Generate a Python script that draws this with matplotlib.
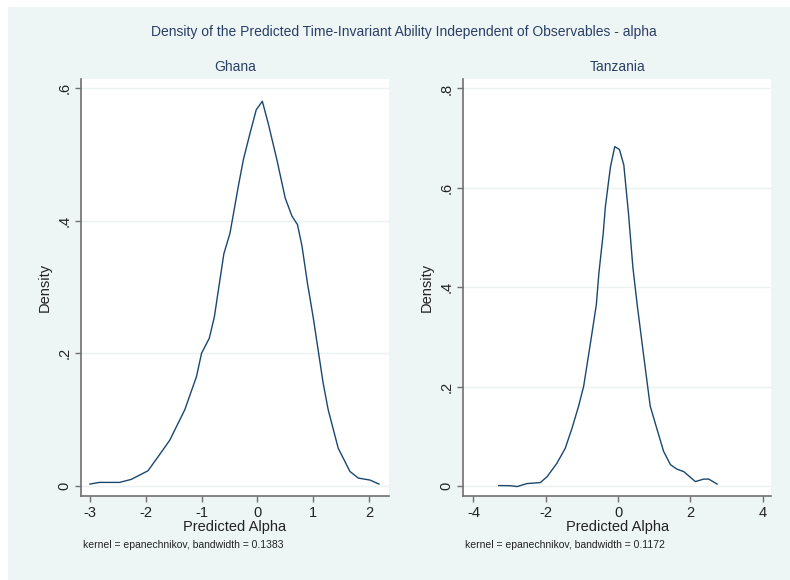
import numpy as np
import matplotlib
matplotlib.use('Agg')
import matplotlib.pyplot as plt

plt.rcParams['font.family'] = ['Liberation Sans', 'DejaVu Sans']

# Ghana density curve
ghana_x = [-3.00, -2.83, -2.47, -2.26, -1.96, -1.78, -1.57, -1.30, -1.09, -1.00,
           -0.86, -0.77, -0.60, -0.49, -0.34, -0.25, -0.13, -0.02, 0.09, 0.20,
           0.35, 0.50, 0.62, 0.72, 0.80, 0.90, 1.00, 1.09, 1.18, 1.27,
           1.45, 1.66, 1.81, 2.02, 2.18]
ghana_y = [0.003, 0.0055, 0.0055, 0.010, 0.023, 0.044, 0.069, 0.115, 0.165, 0.200,
           0.223, 0.255, 0.350, 0.381, 0.452, 0.492, 0.532, 0.567, 0.580, 0.545,
           0.492, 0.434, 0.407, 0.394, 0.362, 0.305, 0.255, 0.205, 0.155, 0.115,
           0.057, 0.022, 0.012, 0.009, 0.003]

# Tanzania density curve
tanz_x = [-3.30, -2.98, -2.79, -2.52, -2.15, -1.96, -1.69, -1.46, -1.27, -1.09,
          -0.95, -0.76, -0.60, -0.53, -0.41, -0.35, -0.21, -0.09, 0.04, 0.16,
          0.29, 0.41, 0.53, 0.71, 0.89, 1.08, 1.26, 1.45, 1.63, 1.82,
          2.14, 2.37, 2.51, 2.74]
tanz_y = [0.001, 0.0007, -0.001, 0.005, 0.007, 0.019, 0.046, 0.076, 0.117, 0.161,
          0.201, 0.289, 0.365, 0.428, 0.508, 0.562, 0.642, 0.683, 0.677, 0.646,
          0.548, 0.441, 0.365, 0.262, 0.161, 0.114, 0.070, 0.043, 0.034, 0.029,
          0.009, 0.014, 0.014, 0.004]

ghana_xticks = [-3, -2, -1, 0, 1, 2]
ghana_yticks = [0, 0.2, 0.4, 0.6]
tanz_xticks = [-4, -2, 0, 2, 4]
tanz_yticks = [0, 0.2, 0.4, 0.6, 0.8]
ylabels_g = ['0', '.2', '.4', '.6']
ylabels_t = ['0', '.2', '.4', '.6', '.8']

title = 'Density of the Predicted Time-Invariant Ability Independent of Observables - alpha'
notes = ['kernel = epanechnikov, bandwidth = 0.1383',
         'kernel = epanechnikov, bandwidth = 0.1172']

bg = '#edf5f5'
navy = '#1a476f'
txt = '#2a3f66'

fig = plt.figure(figsize=(7.9, 5.8), dpi=100)
fig.patch.set_facecolor('white')
fig.add_artist(plt.Rectangle((8 / 790, 0), 1, 1 - 7 / 580, transform=fig.transFigure,
                             facecolor=bg, edgecolor='none', zorder=0))

fig.text(404 / 790, 1 - 32 / 580, title, ha='center', va='center', fontsize=10, color=txt)

panels = [
    ('Ghana', ghana_x, ghana_y, ghana_xticks, ghana_yticks, ylabels_g,
     (-3.16, 2.36), (-0.015, 0.6135), 81),
    ('Tanzania', tanz_x, tanz_y, tanz_xticks, tanz_yticks, ylabels_t,
     (-4.28, 4.24), (-0.02, 0.819), 463.3),
]

for i, (name, xs, ys, xt, yt, yl, xlim, ylim, left) in enumerate(panels):
    ax = fig.add_axes([left / 790, 84 / 580, 308 / 790, 417 / 580])
    ax.set_facecolor('white')
    ax.plot(xs, ys, color=navy, lw=1.0)
    ax.set_xlim(*xlim)
    ax.set_ylim(*ylim)
    ax.set_xticks(xt)
    ax.set_xticklabels([str(v) for v in xt], fontsize=10.5, color='#222222')
    ax.set_yticks(yt)
    ax.set_yticklabels(yl, rotation=90, va='center', fontsize=10.5, color='#222222')
    ax.grid(axis='y', color='#eaf2f3', lw=1)
    ax.set_axisbelow(True)
    for s in ['top', 'right']:
        ax.spines[s].set_visible(False)
    for s in ['left', 'bottom']:
        ax.spines[s].set_color('#707070')
        ax.spines[s].set_linewidth(1.2)
    ax.tick_params(direction='out', length=4, width=1, color='#707070', pad=3)
    ax.set_ylabel('Density', fontsize=10.5, color='#222222', labelpad=4)
    ax.set_xlabel('Predicted Alpha', fontsize=10.5, color='#222222', labelpad=0)
    ax.set_title(name, fontsize=10, color=txt, pad=6)
    fig.text((left + 2) / 790, 1 - 545 / 580, notes[i], ha='left', va='center',
             fontsize=7.5, color='#222222')

fig.savefig('out.png', dpi=100, facecolor=fig.get_facecolor())
